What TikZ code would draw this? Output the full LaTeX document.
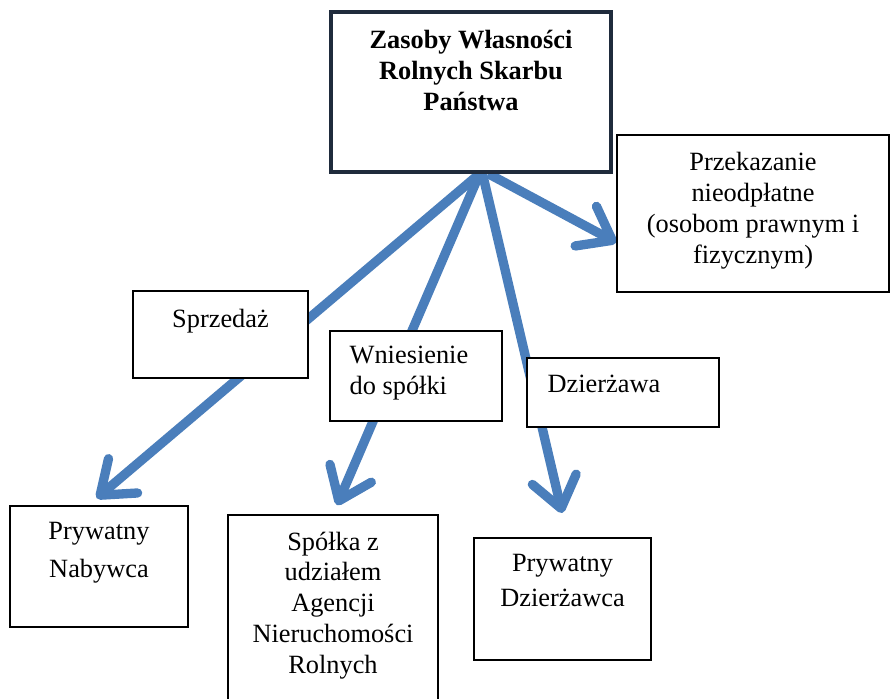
\documentclass[tikz,border=0pt]{standalone}
\usepackage{fontspec}
\setmainfont{Liberation Serif}
\usetikzlibrary{arrows.meta,backgrounds}
\definecolor{flowblue}{HTML}{4A7EBB}
\definecolor{titleline}{HTML}{1F2B3C}
\begin{document}
\begin{tikzpicture}[x=0.02cm,y=-0.02cm,
  every node/.style={font=\fontsize{15}{17.6}\selectfont},
  box/.style={draw,fill=white,line width=0.8pt,inner sep=0pt},
  boxtext/.style={inner sep=0pt,align=center},
  flow/.style={draw=flowblue,line width=5.3pt,-{Straight Barb[length=0.6cm,width=0.9cm,round]}}]
\useasboundingbox (0,0) rectangle (891,698);
\node[box,minimum width=5.6cm,minimum height=3.2cm,line width=2pt,draw=titleline,
  label={[boxtext,anchor=north,yshift=-0.4cm,font=\bfseries\fontsize{15}{17.6}\selectfont]north:{Zasoby Własności\\Rolnych Skarbu\\Państwa}}] (zasoby) at (471,92) {};
\node[box,minimum width=5.44cm,minimum height=3.14cm,
  label={[boxtext,anchor=north,yshift=-0.36cm]north:{Przekazanie\\nieodpłatne\\(osobom prawnym i\\fizycznym)}}] (przek) at (753,213.5) {};
\node[box,minimum width=3.5cm,minimum height=1.74cm,
  label={[boxtext,anchor=north,yshift=-0.38cm]north:Sprzedaż}] (sprz) at (220.5,334.5) {};
\node[box,minimum width=3.44cm,minimum height=1.8cm,
  label={[boxtext,align=left,anchor=north west,xshift=0.4cm,yshift=-0.3cm]north west:{Wniesienie\\do spółki}}] (wnies) at (416,376) {};
\node[box,minimum width=3.84cm,minimum height=1.38cm,
  label={[boxtext,anchor=north west,xshift=0.42cm,yshift=-0.34cm]north west:Dzierżawa}] (dzier) at (623,392.5) {};
\node[box,minimum width=3.56cm,minimum height=2.42cm,
  label={[boxtext,anchor=north,yshift=-0.34cm,font=\fontsize{15}{21.6}\selectfont]north:{Prywatny\\Nabywca}}] (nabyw) at (99,566.5) {};
\node[box,minimum width=4.2cm,minimum height=4.1cm,
  label={[boxtext,anchor=north,yshift=-0.34cm]north:{Spółka z\\udziałem\\Agencji\\Nieruchomości\\Rolnych}}] (spolka) at (333,617.5) {};
\node[box,minimum width=3.54cm,minimum height=2.44cm,
  label={[boxtext,anchor=north,yshift=-0.34cm,font=\fontsize{15}{19.9}\selectfont]north:{Prywatny\\Dzierżawca}}] (dzierz) at (562.5,599) {};
\begin{scope}[on background layer]
\draw[flow,shorten >=0.22cm] (zasoby.-84) -- (nabyw.100);
\draw[flow,shorten >=0.2cm] (zasoby.-84) -- (spolka.north);
\draw[flow,shorten >=0.5cm] (zasoby.-82) -- (dzierz.85);
\draw[flow] (zasoby.-78) -- (przek.192);
\end{scope}
\end{tikzpicture}
\end{document}
